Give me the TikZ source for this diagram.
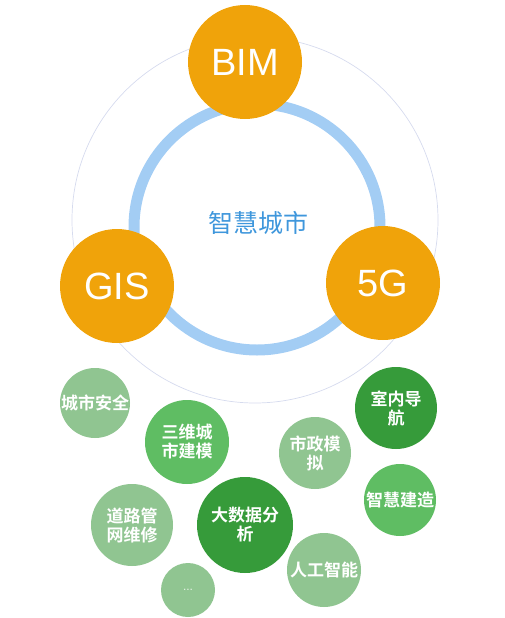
\documentclass[tikz,border=0pt]{standalone}
\usepackage{fontspec}
\setmainfont{Liberation Sans}
\newfontfamily\cjk[BoldFont={Noto Sans CJK SC Bold}]{Noto Sans CJK SC}
\usetikzlibrary{positioning}
\definecolor{amber}{HTML}{F0A30A}
\definecolor{ringblue}{HTML}{A3CDF4}
\definecolor{haloline}{HTML}{D6DBEE}
\definecolor{cityblue}{HTML}{3F97DC}
\definecolor{pale}{HTML}{90C591}
\definecolor{mid}{HTML}{5FBD63}
\definecolor{deep}{HTML}{369B3A}

\begin{document}
\begin{tikzpicture}[x=1pt,y=-1pt,
	tech/.style={circle, fill=amber, text=white, inner sep=0pt, minimum size=114pt, font=\fontsize{38}{38}\selectfont},
	topic/.style={circle, text=white, inner sep=0pt, align=center, font=\cjk\bfseries\fontsize{17}{19}\selectfont}]
	\useasboundingbox (0,0) rectangle (504,618);
	
	% outer faint circle and blue ring
	\draw[haloline, line width=0.7pt] (255,220) circle (183pt);
	\draw[ringblue, line width=11pt] (257,227) circle (123pt);
	\node[text=cityblue, font=\cjk\fontsize{25}{25}\selectfont] (city) at (258,223) {智慧城市};
	
	% the three technologies
	\node[tech] (bim) at (245,62) {BIM};
	\node[tech] (gis) at (117,286) {GIS};
	\node[tech] (fiveg) at (383,283) {5G};
	
	% application bubbles
	\node[topic, fill=pale, minimum size=70pt] (safety) at (95,403) {城市安全};
	\node[topic, fill=mid, minimum size=84pt] (model3d) at (187,442) {三维城\\市建模};
	\node[topic, fill=pale, minimum size=72pt] (municipal) at (315,453) {市政模\\拟};
	\node[topic, fill=deep, minimum size=82pt] (indoor) at (396,408) {室内导\\航};
	\node[topic, fill=mid, minimum size=72pt] (construct) at (400,500) {智慧建造};
	\node[topic, fill=pale, minimum size=82pt] (pipes) at (132,525) {道路管\\网维修};
	\node[topic, fill=deep, minimum size=96pt] (bigdata) at (245,525) {大数据分\\析};
	\node[topic, fill=pale, minimum size=74pt] (ai) at (324,570) {人工智能};
	\node[topic, fill=pale, minimum size=54pt, font=\fontsize{12}{12}\selectfont, text=white!80!pale] (more) at (188,590) {...};
\end{tikzpicture}
\end{document}
